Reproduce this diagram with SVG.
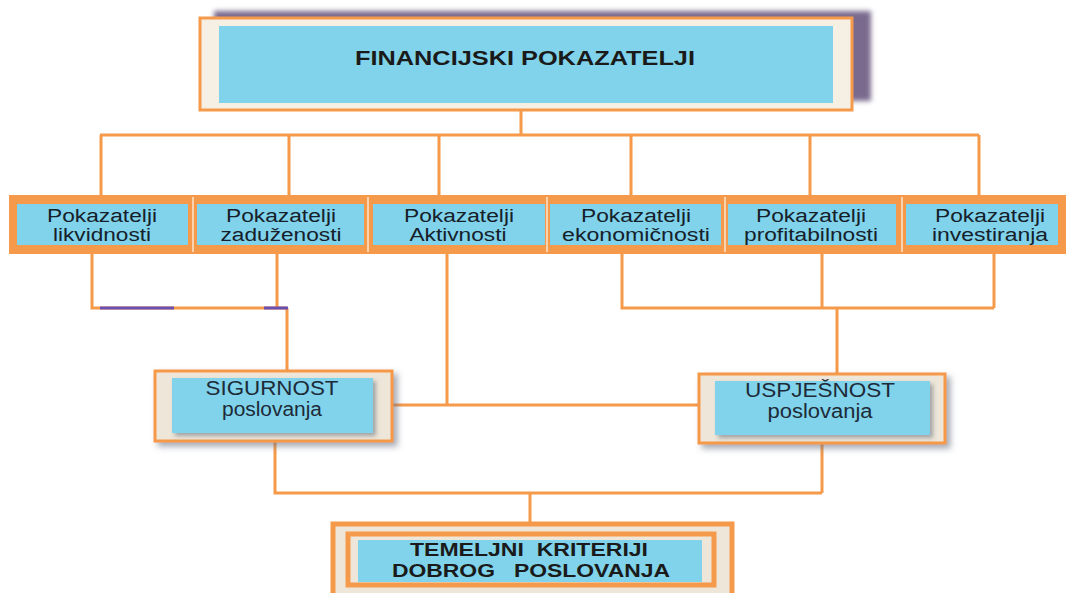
<svg xmlns="http://www.w3.org/2000/svg" width="1070" height="593" viewBox="0 0 1070 593">
<defs>
<filter id="sh" x="-10%" y="-20%" width="130%" height="150%"><feDropShadow dx="4" dy="4" stdDeviation="3" flood-color="#6b6f80" flood-opacity="0.6"/></filter>
<filter id="sh2" x="-10%" y="-20%" width="130%" height="150%"><feDropShadow dx="3" dy="3" stdDeviation="2" flood-color="#556070" flood-opacity="0.5"/></filter>
<filter id="blur" x="-10%" y="-20%" width="130%" height="150%"><feGaussianBlur stdDeviation="2.5"/></filter>
<style>
.ln{stroke:#f5994a;stroke-width:3;fill:none}
.pl{stroke:#6a4fb0;stroke-width:3;fill:none}
.blue{fill:#80d3ea}
.frame{fill:#eee6d8;stroke:#f5994a;stroke-width:3}
.t{font-family:"Liberation Sans",Arial,sans-serif;text-anchor:middle;fill:#1a1a1a}
.r{font-size:18px;fill:#16202a}
.b{font-weight:bold}
.nv{fill:#1d2a38;font-size:20px}
.pre{white-space:pre}
</style>
</defs>
<rect width="1070" height="593" fill="#ffffff"/>

<g id="connectors">
<path class="ln" d="M521 110V135M100 135H979M101 135V195M289 135V195M439 135V195M631 135V195M810 135V195M979 135V195"/>
<path class="ln" d="M92 254V308H287M277 254V308M287 308V371"/>
<path class="pl" d="M100 308H174M264 308H288"/>
<path class="ln" d="M447 254V405M393 405H700"/>
<path class="ln" d="M622 254V308H994M822 254V308M994 254V308M837 308V374"/>
<path class="ln" d="M275 442V493H822M822 443V493M530 493V523"/>
</g>

<g id="n-top">
<rect x="214" y="11" width="657" height="90" fill="#7a6a8e" filter="url(#blur)"/>
<rect x="200" y="18" width="652" height="92" fill="#f6efe3" stroke="#f5994a" stroke-width="3"/>
<rect class="blue" x="219" y="26" width="614" height="77"/>
<text class="t b" x="525" y="65" font-size="21" textLength="340" lengthAdjust="spacingAndGlyphs">FINANCIJSKI POKAZATELJI</text>
</g>

<rect x="9" y="195" width="1057" height="59" fill="#f5994a"/>
<g id="n-likv">
<rect class="blue" x="17" y="204" width="171" height="41"/>
<text class="t r" x="102" y="222" textLength="110" lengthAdjust="spacingAndGlyphs">Pokazatelji</text>
<text class="t r" x="102" y="241" textLength="98" lengthAdjust="spacingAndGlyphs">likvidnosti</text>
</g>
<g id="n-zad">
<rect class="blue" x="197" y="204" width="167" height="41"/>
<text class="t r" x="281" y="222" textLength="110" lengthAdjust="spacingAndGlyphs">Pokazatelji</text>
<text class="t r" x="281" y="241" textLength="121" lengthAdjust="spacingAndGlyphs">zaduženosti</text>
</g>
<g id="n-akt">
<rect class="blue" x="373" y="204" width="172" height="41"/>
<text class="t r" x="459" y="222" textLength="110" lengthAdjust="spacingAndGlyphs">Pokazatelji</text>
<text class="t r" x="458" y="241" textLength="97" lengthAdjust="spacingAndGlyphs">Aktivnosti</text>
</g>
<g id="n-eko">
<rect class="blue" x="550" y="204" width="171" height="41"/>
<text class="t r" x="636" y="222" textLength="110" lengthAdjust="spacingAndGlyphs">Pokazatelji</text>
<text class="t r" x="636" y="241" textLength="148" lengthAdjust="spacingAndGlyphs">ekonomičnosti</text>
</g>
<g id="n-prof">
<rect class="blue" x="728" y="204" width="168" height="41"/>
<text class="t r" x="811" y="222" textLength="110" lengthAdjust="spacingAndGlyphs">Pokazatelji</text>
<text class="t r" x="811" y="241" textLength="134" lengthAdjust="spacingAndGlyphs">profitabilnosti</text>
</g>
<g id="n-inv">
<rect class="blue" x="906" y="204" width="152" height="41"/>
<text class="t r" x="990" y="222" textLength="110" lengthAdjust="spacingAndGlyphs">Pokazatelji</text>
<text class="t r" x="990" y="241" textLength="116" lengthAdjust="spacingAndGlyphs">investiranja</text>
</g>
<path d="M193 197V252M368 197V252M547 197V252M725 197V252M902 197V252" stroke="#fbe6cf" stroke-width="1.5"/>

<g id="n-sig">
<rect class="frame" x="155" y="371" width="237" height="70" filter="url(#sh)"/>
<rect class="blue" x="172" y="378" width="201" height="55" filter="url(#sh2)"/>
<text class="t nv" x="272" y="395" textLength="133" lengthAdjust="spacingAndGlyphs">SIGURNOST</text>
<text class="t nv" x="272" y="416" textLength="100" lengthAdjust="spacingAndGlyphs">poslovanja</text>
</g>

<g id="n-usp">
<rect class="frame" x="699" y="374" width="246" height="69" filter="url(#sh)"/>
<rect class="blue" x="715" y="381" width="215" height="54" filter="url(#sh2)"/>
<text class="t nv" x="820" y="397" textLength="150" lengthAdjust="spacingAndGlyphs">USPJEŠNOST</text>
<text class="t nv" x="820" y="418" textLength="105" lengthAdjust="spacingAndGlyphs">poslovanja</text>
</g>

<g id="n-tem">
<rect x="333" y="524" width="399" height="80" fill="#eee6d8" stroke="#f5994a" stroke-width="5"/>
<rect x="348" y="534" width="366" height="51" fill="#eee6d8" stroke="#f5994a" stroke-width="5"/>
<rect class="blue" x="358" y="540" width="344" height="42"/>
<text class="t b pre" x="529" y="556" font-size="18" textLength="238" lengthAdjust="spacingAndGlyphs">TEMELJNI  KRITERIJI</text>
<text class="t b pre" x="531" y="577" font-size="18" textLength="278" lengthAdjust="spacingAndGlyphs">DOBROG   POSLOVANJA</text>
</g>
</svg>
